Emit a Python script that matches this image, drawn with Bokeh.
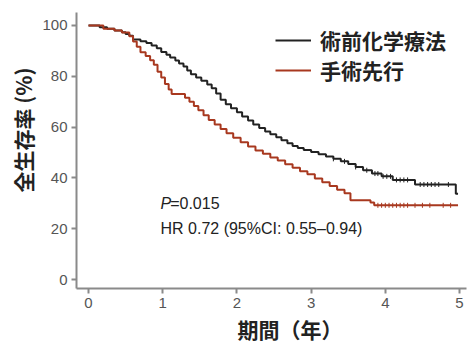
import numpy as np
from bokeh.plotting import figure
from bokeh.models import Range1d, Label, Legend, LegendItem, FixedTicker, Title
from bokeh.embed import file_html
from bokeh.resources import INLINE

# --- data ---
series_names = ["術前化学療法", "手術先行"]
x_ticks = [0, 1, 2, 3, 4, 5]
y_ticks = [0, 20, 40, 60, 80, 100]

black_t = [0, 0.15, 0.25, 0.35, 0.45, 0.5, 0.55, 0.6, 0.7, 0.78, 0.85, 0.92, 0.98, 1.05,
           1.1, 1.17, 1.22, 1.28, 1.33, 1.38, 1.45, 1.52, 1.6, 1.66, 1.72, 1.78, 1.85,
           1.92, 2.0, 2.07, 2.15, 2.22, 2.3, 2.38, 2.45, 2.53, 2.6, 2.68, 2.75, 2.82,
           2.9, 3.0, 3.1, 3.2, 3.3, 3.4, 3.5, 3.6, 3.7, 3.82, 3.95, 4.1, 4.4, 4.95, 4.98]
black_s = [100, 99.3, 98.7, 98.0, 97.3, 96.6, 95.9, 94.5, 93.8, 93.1, 92.1, 91.0, 89.6, 88.5,
           87.4, 86.2, 85.0, 83.8, 82.3, 80.8, 79.5, 78.2, 76.8, 75.3, 73.2, 70.8, 69.0,
           67.4, 65.8, 64.2, 62.6, 61.0, 59.6, 58.3, 57.2, 56.0, 54.8, 53.6, 52.6, 51.8,
           51.0, 50.2, 49.3, 48.4, 47.5, 46.5, 45.5, 44.3, 43.0, 41.7, 40.6, 39.2, 37.4, 33.8, 33.8]
black_cens = [3.3, 3.45, 3.6, 3.75, 3.86, 3.9, 3.97, 4.02, 4.07, 4.15, 4.2, 4.25, 4.3,
              4.47, 4.52, 4.57, 4.62, 4.67, 4.72, 4.85]

red_t = [0, 0.2, 0.35, 0.45, 0.55, 0.6, 0.65, 0.7, 0.77, 0.83, 0.88, 0.93, 0.98, 1.03,
         1.08, 1.12, 1.3, 1.36, 1.42, 1.48, 1.55, 1.62, 1.7, 1.78, 1.86, 1.95, 2.05, 2.15,
         2.25, 2.35, 2.45, 2.55, 2.65, 2.75, 2.85, 2.95, 3.05, 3.15, 3.25, 3.35, 3.45,
         3.53, 3.8, 3.85, 4.98]
red_s = [100, 98.7, 98.0, 97.2, 95.8, 93.7, 91.6, 89.5, 88.0, 86.3, 84.5, 81.8, 79.5, 77.0,
         74.8, 73.0, 71.5, 70.0, 68.3, 66.6, 64.7, 62.8, 61.0, 59.2, 57.6, 55.8, 54.0, 52.4,
         50.8, 49.5, 48.0, 46.8, 45.4, 44.0, 42.6, 41.4, 39.8, 38.3, 36.8, 35.3, 34.0,
         31.2, 30.3, 29.2, 29.2]
red_cens = [3.9, 3.95, 4.0, 4.05, 4.1, 4.15, 4.2, 4.25, 4.3, 4.4, 4.5, 4.6, 4.78, 4.88]

p_text = "=0.015"
hr_text = "HR 0.72 (95%CI: 0.55\u20130.94)"
x_label = "期間（年）"
y_label = "全生存率 (%)"

BLACK = "#222222"
RED = "#a8381f"
AXIS = "#8a8a8a"
CJK = "Noto Sans CJK JP"
LAT = "Liberation Sans"

p = figure(width=468, height=347, output_backend="svg", toolbar_location=None,
           x_range=Range1d(-0.162, 5.094), y_range=Range1d(-3.54, 105.1),
           min_border_left=76, min_border_right=2, min_border_top=12, min_border_bottom=59)
p.outline_line_color = None
p.xgrid.visible = False
p.ygrid.visible = False
p.background_fill_color = "white"

def lookup(ts, ss, x):
    i = np.searchsorted(np.array(ts), x, side="right") - 1
    return [ss[k] for k in i]

rb = p.step(black_t, black_s, mode="after", line_color=BLACK, line_width=2)
rr = p.step(red_t, red_s, mode="after", line_color=RED, line_width=2)
p.scatter(black_cens, lookup(black_t, black_s, black_cens), marker="dash", angle=np.pi/2,
          size=5, line_color=BLACK, line_width=1)
p.scatter(red_cens, lookup(red_t, red_s, red_cens), marker="dash", angle=np.pi/2,
          size=5, line_color=RED, line_width=1)

legend = Legend(items=[LegendItem(label=series_names[0], renderers=[rb]),
                       LegendItem(label=series_names[1], renderers=[rr])],
                location=(199, 203), padding=0, margin=0, spacing=0,
                glyph_width=36, glyph_height=22, label_height=22, label_standoff=9,
                label_text_font=CJK, label_text_font_size="21px",
                label_text_font_style="bold", label_text_color=BLACK,
                border_line_alpha=0, background_fill_alpha=0)
p.add_layout(legend, "center")

for ax in (p.xaxis[0], p.yaxis[0]):
    ax.axis_line_color = AXIS
    ax.axis_line_width = 2
    ax.major_tick_line_color = AXIS
    ax.major_tick_line_width = 2
    ax.major_tick_in = 0
    ax.major_tick_out = 5
    ax.minor_tick_line_color = None
    ax.major_label_text_font = LAT
    ax.major_label_text_font_size = "15px"
    ax.major_label_text_color = "#555555"
p.xaxis.ticker = FixedTicker(ticks=x_ticks)
p.yaxis.ticker = FixedTicker(ticks=y_ticks)
p.xaxis.major_label_standoff = 4
p.yaxis.major_label_standoff = 4

p.add_layout(Label(x=0.97, y=29.9, text="P", text_font=LAT, text_font_size="16px",
                   text_font_style="italic", text_color=BLACK, text_baseline="middle"))
p.add_layout(Label(x=1.10, y=29.9, text=p_text, text_font=LAT, text_font_size="16px",
                   text_color=BLACK, text_baseline="middle"))
p.add_layout(Label(x=0.97, y=20.1, text=hr_text, text_font=LAT, text_font_size="16px",
                   text_color=BLACK, text_baseline="middle"))

p.add_layout(Title(text=x_label, align="left", offset=161, standoff=3,
                   text_font=CJK, text_font_size="21px", text_font_style="bold",
                   text_color=BLACK), "below")
p.add_layout(Title(text=y_label, align="left", offset=96, standoff=4,
                   text_font=CJK, text_font_size="21px", text_font_style="bold",
                   text_color=BLACK), "left")

open("out.html", "w").write(file_html(p, INLINE))
